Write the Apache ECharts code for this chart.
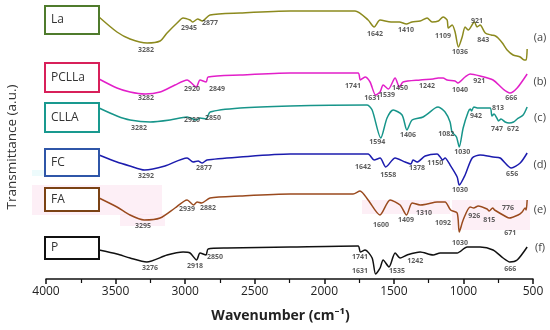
<!DOCTYPE html>
<html><head><meta charset="utf-8">
<script src="https://cdn.jsdelivr.net/npm/echarts@6/dist/echarts.min.js"></script>
<style>html,body{margin:0;padding:0;background:#fff}#c{width:550px;height:330px}</style>
</head><body><div id="c"></div>
<script>
// Spectra: [wavenumber, transmittance (a.u.)]
const laData = [[3619,262],[3490,247],[3396,240],[3274,236],[3180,238],[3130,246],[3058,256],[3015,261],[2965,259],[2945,257],[2910,260],[2877,258],[2821,264],[2605,266],[2246,268],[1779,268],[1685,259],[1642,252],[1599,259],[1520,257],[1460,257],[1410,255],[1370,257],[1311,258],[1261,261],[1225,257],[1180,258],[1146,262],[1117,259],[1109,251],[1081,254],[1060,247],[1036,232],[1009,242],[988,252],[966,249],[921,257],[902,252],[880,254],[843,246],[800,244],[770,243],[751,241],[720,236],[686,229],[643,224],[592,222],[564,219],[549,219],[542,230]];
const pcllaData = [[3619,200],[3490,191],[3396,187],[3288,185],[3180,187],[3073,194],[2986,199],[2920,192],[2893,199],[2849,197],[2835,202],[2605,204],[2246,206],[1757,206],[1741,199],[1707,202],[1671,197],[1631,184],[1599,187],[1577,194],[1539,190],[1491,201],[1460,192],[1434,197],[1311,199],[1218,200],[1182,201],[1146,201],[1117,199],[1060,198],[1040,196],[988,202],[952,205],[880,203],[787,199],[715,190],[666,186],[614,191],[542,205]];
const cllaData = [[3619,171],[3490,163],[3396,159],[3252,157],[3109,159],[2986,162],[2920,159],[2893,161],[2850,160],[2820,167],[2605,171],[2246,173],[1692,174],[1656,169],[1594,141],[1549,161],[1505,169],[1441,164],[1406,149],[1369,159],[1290,162],[1203,171],[1182,172],[1132,167],[1096,157],[1082,147],[1050,142],[1030,132],[1002,151],[966,167],[950,170],[942,168],[925,172],[894,171],[808,171],[795,163],[780,165],[760,161],[747,158],[730,160],[700,157],[672,156],[640,157],[614,160],[571,164],[542,172]];
const fcData = [[3619,124],[3490,117],[3396,113],[3292,109],[3145,113],[2986,121],[2943,117],[2907,118],[2877,116],[2843,119],[2605,122],[2246,125],[1685,125],[1642,119],[1599,121],[1558,112],[1491,121],[1419,117],[1378,115],[1362,119],[1333,117],[1275,123],[1189,125],[1167,122],[1150,119],[1132,121],[1096,114],[1045,102],[1030,94],[988,104],[937,121],[880,124],[787,122],[736,121],[656,111],[592,116],[542,126]];
const faData = [[3619,81],[3490,72],[3396,64],[3295,59],[3180,61],[3073,71],[2986,79],[2939,74],[2914,77],[2882,76],[2821,81],[2605,83],[2246,85],[1793,85],[1743,88],[1685,79],[1600,64],[1527,79],[1455,74],[1409,64],[1369,76],[1311,74],[1261,75],[1189,77],[1132,77],[1092,69],[1045,66],[1030,47],[1002,59],[952,72],[926,71],[894,73],[830,70],[815,68],[790,71],[776,69],[690,62],[671,61],[607,64],[578,67],[557,71],[549,69],[542,79]];
const pData = [[3619,29],[3490,25],[3396,21],[3276,17],[3130,24],[3015,27],[2965,26],[2918,19],[2893,26],[2850,24],[2835,30],[2699,31],[2246,32],[1757,33],[1741,27],[1707,29],[1656,21],[1631,5],[1599,11],[1577,19],[1535,12],[1491,26],[1455,21],[1405,24],[1311,27],[1218,24],[1167,26],[1117,26],[1045,26],[973,32],[880,32],[787,29],[715,21],[666,17],[614,19],[542,32]];

const sampleNames = ['La','PCLLa','CLLA','FC','FA','P'];
const panelTags = ['(a)','(b)','(c)','(d)','(e)','(f)'];
const xTickLabels = [4000,3500,3000,2500,2000,1500,1000,500];

// Peak annotations: [label, wavenumber position, transmittance position]
const laPeaks = [['3282',3281,229],['2945',2972,251],['2877',2821,256],['1642',1635,245],['1410',1412,249],['1109',1146,243],['1036',1024,227],['921',902,258],['843',858,239]];
const pcllaPeaks = [['3282',3281,181],['2920',2950,190],['2849',2771,190],['1741',1793,193],['1631',1656,181],['1539',1549,184],['1450',1455,191],['1242',1261,193],['1040',1024,189],['921',887,198],['666',657,181]];
const cllaPeaks = [['3282',3331,151],['2920',2950,159],['2850',2799,161],['1594',1620,137],['1406',1398,144],['1082',1124,145],['1030',1009,127],['942',909,163],['813',751,171],['747',758,150],['672',643,150]];
const fcPeaks = [['3292',3281,103],['2877',2864,111],['1642',1721,112],['1558',1541,104],['1378',1333,111],['1150',1203,116],['1030',1024,89],['656',650,105]];
const faPeaks = [['3295',3303,53],['2939',2986,70],['2882',2835,71],['1600',1592,54],['1409',1412,59],['1310',1283,66],['1092',1146,56],['1030',1024,36],['926',923,63],['815',815,59],['776',679,71],['671',664,46]];
const pPeaks = [['3276',3252,11],['2918',2929,13],['2850',2785,22],['1741',1743,22],['1631',1743,8],['1535',1477,8],['1242',1347,18],['666',664,10]];

const spectra = [laData, pcllaData, cllaData, fcData, faData, pData];
const peaks = [laPeaks, pcllaPeaks, cllaPeaks, fcPeaks, faPeaks, pPeaks];
const lineColors = ['#8c8a1e','#e21fc9','#17958a','#1c1cae','#9a4a1e','#111111'];
const boxColors = ['#4f7b2c','#d8205a','#19998f','#2f56a8','#7b4214','#111111'];

const chart = echarts.init(document.getElementById('c'), null, {renderer:'canvas'});
const FONT = '"Open Sans", "Noto Sans", sans-serif';

const series = [];
spectra.forEach((d,i)=>{
  series.push({type:'line', name:sampleNames[i], data:d, showSymbol:false, smooth:0.25,
    lineStyle:{color:lineColors[i], width:1.5}, silent:true, z:3});
  series.push({type:'scatter', data:peaks[i].map(p=>({name:p[0], value:[p[1],p[2]]})),
    symbolSize:0, silent:true, z:5,
    label:{show:true, position:'inside', formatter:'{b}', fontSize:7, fontWeight:'bold', color:'#333', fontFamily:FONT}});
});

chart.setOption({
  animation:false,
  grid:{left:46, right:17, top:0, bottom:51},
  xAxis:{type:'value', inverse:true, min:500, max:4000, interval:500,
    axisLine:{lineStyle:{color:'#111', width:1.5}},
    axisTick:{length:5, lineStyle:{color:'#111', width:1.5}},
    minorTick:{show:true, splitNumber:2, length:4, lineStyle:{color:'#111', width:1.2}},
    splitLine:{show:false},
    axisLabel:{color:'#222', fontSize:12, fontFamily:FONT, margin:7,
      formatter:v=> xTickLabels.includes(v) ? String(v) : ''},
    name:'Wavenumber (cm⁻¹)', nameLocation:'middle', nameGap:30,
    nameTextStyle:{color:'#222', fontSize:14, fontWeight:'bold', fontFamily:FONT, padding:[0,18,0,0]}},
  yAxis:{type:'value', min:0, max:279, show:false},
  series:series,
  graphic:(function(){
    const g = [];
    const pink = 'rgba(252,226,238,0.55)';
    g.push({type:'rect', shape:{x:32,y:185,width:130,height:30}, style:{fill:pink}, z:0, silent:true});
    g.push({type:'rect', shape:{x:120,y:214,width:45,height:12}, style:{fill:pink}, z:0, silent:true});
    g.push({type:'rect', shape:{x:362,y:200,width:88,height:14}, style:{fill:pink}, z:0, silent:true});
    g.push({type:'rect', shape:{x:452,y:200,width:78,height:30}, style:{fill:pink}, z:0, silent:true});
    g.push({type:'rect', shape:{x:32,y:170,width:14,height:6}, style:{fill:'rgba(225,248,250,0.6)'}, z:0, silent:true});
    const boxes = [[6,28],[63,29],[103,29],[149,27],[188,23],[237,22]];
    const tagsY = [38,82,118,165,210,248];
    boxes.forEach((b,i)=>{
      g.push({type:'rect', shape:{x:45,y:b[0],width:54,height:b[1]}, style:{fill:'#fff', stroke:boxColors[i], lineWidth:2}, z:10});
      g.push({type:'text', x:51, y:b[0]+b[1]/2, style:{text:sampleNames[i], fill:'#333', font:'12px '+FONT, textVerticalAlign:'middle', verticalAlign:'middle'}, z:11});
      g.push({type:'text', x:540, y:tagsY[i], style:{text:panelTags[i], fill:'#444', font:'11px '+FONT, textAlign:'center', align:'center', textVerticalAlign:'middle', verticalAlign:'middle'}, z:11});
    });
    g.push({type:'text', x:12, y:147, rotation:Math.PI/2, style:{text:'Transmittance (a.u.)', fill:'#333', font:'13.5px '+FONT, textAlign:'center', align:'center', textVerticalAlign:'middle', verticalAlign:'middle'}, z:11});
    return g;
  })()
});
</script>
</body></html>
